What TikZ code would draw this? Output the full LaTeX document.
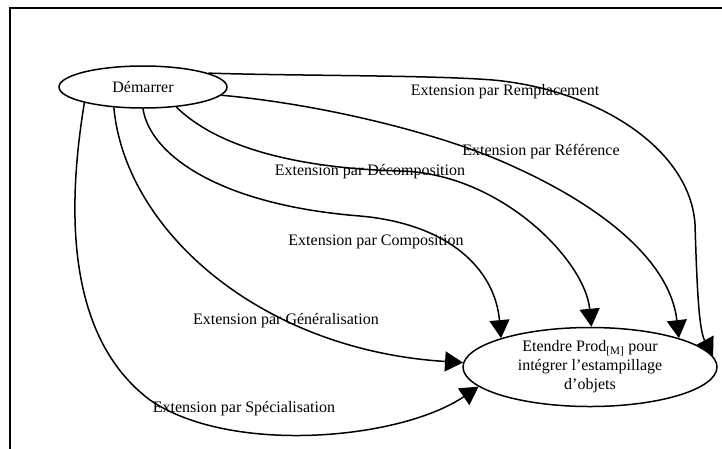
\documentclass[tikz,border=0pt]{standalone}
\usepackage{fontspec}
\setmainfont{Liberation Serif}
\usetikzlibrary{shapes.geometric, arrows.meta}

\begin{document}
\begin{tikzpicture}[x=1pt, y=-1pt, >={Triangle[length=18pt,width=20pt]},
    font=\fontsize{16}{19}\selectfont,
    task/.style={draw, ellipse, line width=1.5pt, inner sep=0pt, align=center},
    ext/.style={->, line width=1.5pt},
    lbl/.style={inner sep=0pt}]
  \useasboundingbox (0,0) rectangle (722,448);
  \clip (0,0) rectangle (722,448);
  \draw[line width=1.5pt] (10,8) rectangle (740,470);
  \node[task, minimum width=168pt, minimum height=42pt] (dem) at (143,87) {Démarrer};
  \node[task, minimum width=254pt, minimum height=79pt] (etd) at (590,367)
    {Etendre Prod\textsubscript{[M]} pour\\intégrer l’estampillage\\d’objets};
  % libelles des extensions
  \node[lbl] (lrem) at (505,92) {Extension par Remplacement};
  \node[lbl] (lref) at (541,152) {Extension par Référence};
  \node[lbl] (ldec) at (370,172) {Extension par Décomposition};
  \node[lbl] (lcom) at (376,242) {Extension par Composition};
  \node[lbl] (lgen) at (286,321) {Extension par Généralisation};
  \node[lbl] (lspe) at (244,409) {Extension par Spécialisation};
  % arcs
  \draw[ext] (dem.12) .. controls (300,76) and (430,75) .. (493,80)
    .. controls (600,90) and (690,150) .. (695,224)
    .. controls (697,290) and (699,330) .. (etd.5);
  \draw[ext] (dem.354) .. controls (320,104) and (440,133) .. (510,165)
    .. controls (600,205) and (670,260) .. (etd.18);
  \draw[ext] (dem.329) .. controls (215,145) and (290,168) .. (400,171)
    .. controls (500,173) and (585,260) .. (etd.88);
  \draw[ext] (dem.270) .. controls (150,155) and (220,205) .. (360,216)
    .. controls (450,224) and (495,270) .. (etd.162);
  \draw[ext] (dem.215) .. controls (125,230) and (260,350) .. (etd.178);
  \draw[ext] (dem.195) .. controls (65,220) and (70,340) .. (150,400)
    .. controls (230,455) and (400,440) .. (etd.190);
\end{tikzpicture}
\end{document}
